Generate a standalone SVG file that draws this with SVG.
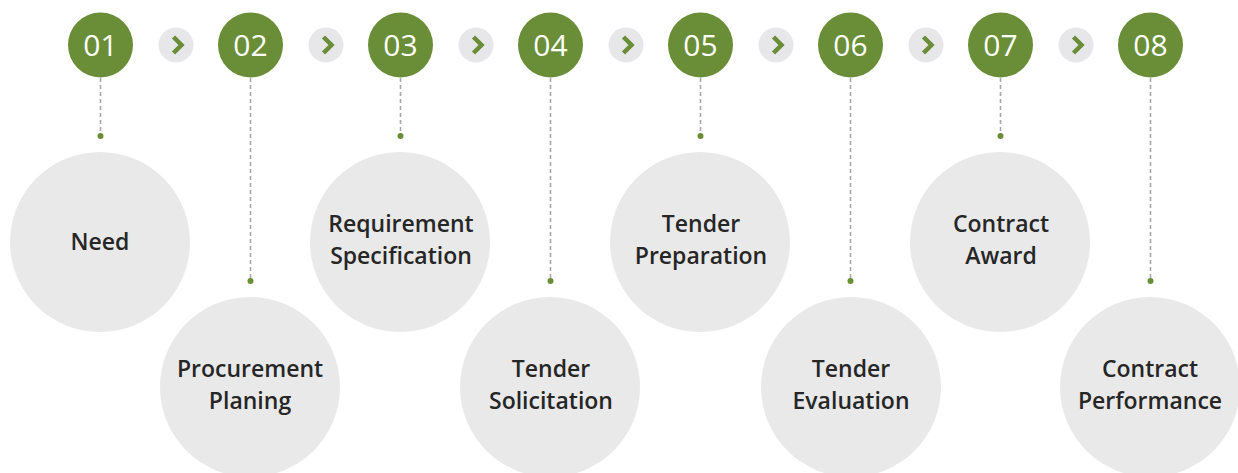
<svg xmlns="http://www.w3.org/2000/svg" width="1238" height="473" viewBox="0 0 1238 473">
<defs>
<style>
.num{fill:#6a8e37}
.numt{fill:#ffffff;font-family:"Open Sans","Noto Sans",sans-serif;font-size:30px;font-weight:500;text-anchor:middle}
.arr{fill:#e7e7ea}
.chev{fill:none;stroke:#6a8e37;stroke-width:4.5;stroke-linejoin:miter}
.big{fill:#e9e9e9}
.lbl{fill:#262626;font-family:"Open Sans","Noto Sans",sans-serif;font-size:23px;font-weight:600;text-anchor:middle}
.dash{stroke:#a8a8a8;stroke-width:1.6;stroke-dasharray:4 3;fill:none}
.dot{fill:#6a8e37}
</style>
</defs>
<rect width="1238" height="473" fill="#ffffff"/>
<g id="connectors">
<line class="dash" x1="100.5" y1="78" x2="100.5" y2="133"/><circle class="dot" cx="100.5" cy="136" r="3"/>
<line class="dash" x1="250.5" y1="78" x2="250.5" y2="278"/><circle class="dot" cx="250.5" cy="281" r="3"/>
<line class="dash" x1="400.5" y1="78" x2="400.5" y2="133"/><circle class="dot" cx="400.5" cy="136" r="3"/>
<line class="dash" x1="550.5" y1="78" x2="550.5" y2="278"/><circle class="dot" cx="550.5" cy="281" r="3"/>
<line class="dash" x1="700.5" y1="78" x2="700.5" y2="133"/><circle class="dot" cx="700.5" cy="136" r="3"/>
<line class="dash" x1="850.5" y1="78" x2="850.5" y2="278"/><circle class="dot" cx="850.5" cy="281" r="3"/>
<line class="dash" x1="1000.5" y1="78" x2="1000.5" y2="133"/><circle class="dot" cx="1000.5" cy="136" r="3"/>
<line class="dash" x1="1150.5" y1="78" x2="1150.5" y2="278"/><circle class="dot" cx="1150.5" cy="281" r="3"/>
<g id="arrows">
<circle class="arr" cx="176" cy="45" r="17.5"/><polyline class="chev" points="173.5,37 181.5,45 173.5,53"/>
<circle class="arr" cx="326" cy="45" r="17.5"/><polyline class="chev" points="323.5,37 331.5,45 323.5,53"/>
<circle class="arr" cx="476" cy="45" r="17.5"/><polyline class="chev" points="473.5,37 481.5,45 473.5,53"/>
<circle class="arr" cx="626" cy="45" r="17.5"/><polyline class="chev" points="623.5,37 631.5,45 623.5,53"/>
<circle class="arr" cx="776" cy="45" r="17.5"/><polyline class="chev" points="773.5,37 781.5,45 773.5,53"/>
<circle class="arr" cx="926" cy="45" r="17.5"/><polyline class="chev" points="923.5,37 931.5,45 923.5,53"/>
<circle class="arr" cx="1076" cy="45" r="17.5"/><polyline class="chev" points="1073.5,37 1081.5,45 1073.5,53"/>
</g>
</g>
<g id="n01"><circle class="num" cx="100.5" cy="45" r="32.5"/><text class="numt" x="100.5" y="56">01</text>
<circle class="big" cx="100" cy="242" r="90"/><text class="lbl" x="100" y="250">Need</text></g>
<g id="n02"><circle class="num" cx="250.5" cy="45" r="32.5"/><text class="numt" x="250.5" y="56">02</text>
<circle class="big" cx="250" cy="387" r="90"/><text class="lbl" x="250" y="377">Procurement</text><text class="lbl" x="250" y="409">Planing</text></g>
<g id="n03"><circle class="num" cx="400.5" cy="45" r="32.5"/><text class="numt" x="400.5" y="56">03</text>
<circle class="big" cx="400" cy="242" r="90"/><text class="lbl" x="401" y="232">Requirement</text><text class="lbl" x="401" y="264">Specification</text></g>
<g id="n04"><circle class="num" cx="550.5" cy="45" r="32.5"/><text class="numt" x="550.5" y="56">04</text>
<circle class="big" cx="550" cy="387" r="90"/><text class="lbl" x="551" y="377">Tender</text><text class="lbl" x="551" y="409">Solicitation</text></g>
<g id="n05"><circle class="num" cx="700.5" cy="45" r="32.5"/><text class="numt" x="700.5" y="56">05</text>
<circle class="big" cx="700" cy="242" r="90"/><text class="lbl" x="701" y="232">Tender</text><text class="lbl" x="701" y="264">Preparation</text></g>
<g id="n06"><circle class="num" cx="850.5" cy="45" r="32.5"/><text class="numt" x="850.5" y="56">06</text>
<circle class="big" cx="851" cy="387" r="90"/><text class="lbl" x="851" y="377">Tender</text><text class="lbl" x="851" y="409">Evaluation</text></g>
<g id="n07"><circle class="num" cx="1000.5" cy="45" r="32.5"/><text class="numt" x="1000.5" y="56">07</text>
<circle class="big" cx="1000" cy="242" r="90"/><text class="lbl" x="1001" y="232">Contract</text><text class="lbl" x="1001" y="264">Award</text></g>
<g id="n08"><circle class="num" cx="1150.5" cy="45" r="32.5"/><text class="numt" x="1150.5" y="56">08</text>
<circle class="big" cx="1150" cy="387" r="90"/><text class="lbl" x="1150" y="377">Contract</text><text class="lbl" x="1150" y="409">Performance</text></g>
</svg>
